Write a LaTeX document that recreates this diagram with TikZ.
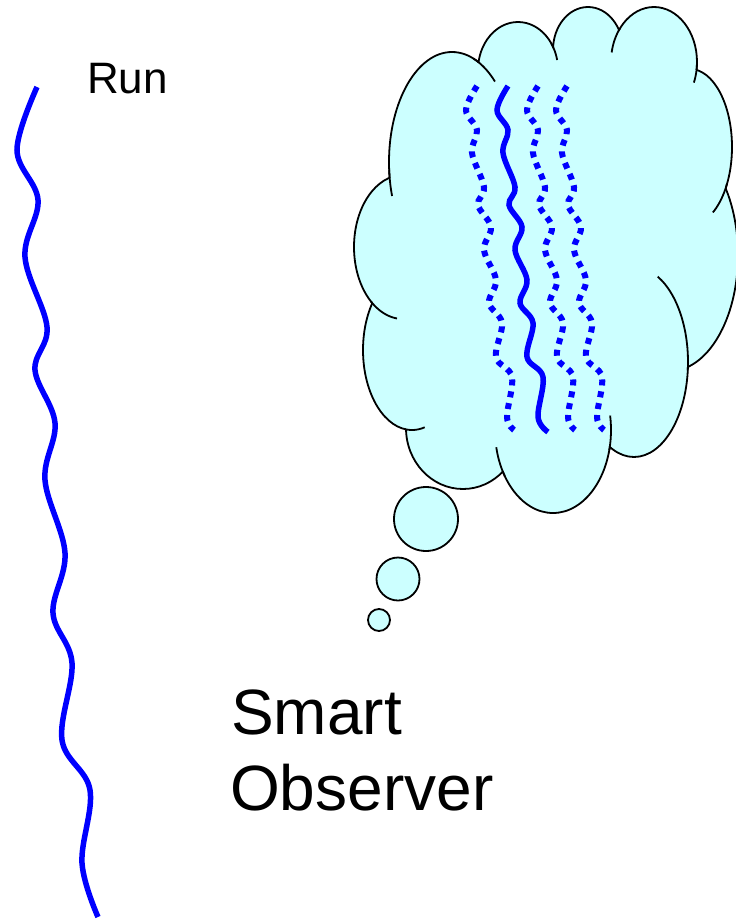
\documentclass[tikz,border=0pt]{standalone}
\usepackage{fontspec}
\setmainfont{Liberation Sans}
\definecolor{cloudfill}{RGB}{204,255,255}
\definecolor{wave}{RGB}{0,0,255}
\tikzset{
  cloudline/.style={draw=black, line width=1.8pt, line join=round},
  wavesolid/.style={draw=wave, line width=5.5pt},
  wavedotted/.style={draw=wave, line width=6pt, dash pattern=on 6pt off 6pt},
  bubble/.style={circle, draw=black, line width=1.8pt, fill=cloudfill, inner sep=0pt},
  label/.style={inner sep=0pt, anchor=base west}
}
% cloud bumps: centre x / centre y / x radius / y radius  (K,A,B,C,D,E,F,G,H,I,J)
\def\cloudlist{403/247/49/72, 452/162/63/110, 518/70/40/48, 588/50/35/43, 654/62/43/55, 690/147/42/78, 670/255/68/116, 634/362/54/95, 553/430/58/83, 463/428/57/61, 412/350/49/80}
\newcommand{\ctail}[6]{\draw[cloudline] plot[domain=#5:#6, samples=16, smooth, variable=\t] ({#1+#3*cos(\t)},{#2+#4*sin(\t)});}
\begin{document}
\begin{tikzpicture}[x=1pt,y=-1pt]
\useasboundingbox (0,0) rectangle (736,919);

% left run
\draw[wavesolid] plot[smooth, tension=0.6] coordinates {(37,87) (17,150) (38,200) (25,257) (47,327) (35,370) (55,423) (45,480) (65,553) (53,613) (72,663) (62,740) (90,790) (82,863) (98,917)};
\node[label, font=\fontsize{44}{50}\selectfont] (run) at (87,93) {Run};

% cloud fill
\fill[cloudfill] (403,247) -- (452,162) -- (518,70) -- (588,50) -- (654,62) -- (690,147) -- (670,255) -- (634,362) -- (553,430) -- (463,428) -- (412,350) -- cycle;
\foreach \cx/\cy/\rx/\ry in \cloudlist {
  \fill[cloudfill] (\cx,\cy) ellipse [x radius=\rx pt, y radius=\ry pt];
}
% cloud outline: each bump drawn only where it lies outside all the others
\foreach \cx/\cy/\rx/\ry [count=\i] in \cloudlist {
  \begin{scope}[even odd rule]
    \clip (-50,-50) rectangle (800,980)
      (403,247) -- (452,162) -- (518,70) -- (588,50) -- (654,62) -- (690,147) -- (670,255) -- (634,362) -- (553,430) -- (463,428) -- (412,350) -- cycle;
    \foreach \ex/\ey/\erx/\ery [count=\j] in \cloudlist {
      \ifnum\j=\i\relax\else
        \clip (-50,-50) rectangle (800,980) (\ex,\ey) ellipse [x radius=\erx pt, y radius=\ery pt];
      \fi
    }
    \draw[cloudline] (\cx,\cy) ellipse [x radius=\rx pt, y radius=\ry pt];
  \end{scope}
}
% inner tails of the bumps
\ctail{452}{162}{63}{110}{162}{176}
\ctail{452}{162}{63}{110}{290}{313}
\ctail{518}{70}{40}{48}{326}{348}
\ctail{654}{62}{43}{55}{190}{218}
\ctail{654}{62}{43}{55}{2}{22}
\ctail{690}{147}{42}{78}{28}{57}
\ctail{634}{362}{54}{95}{-64}{5}
\ctail{553}{430}{58}{83}{-10}{14}
\ctail{553}{430}{58}{83}{146}{168}
\ctail{403}{247}{49}{72}{97}{131}
\ctail{412}{350}{49}{80}{75}{99}

% thought bubbles
\node[bubble, minimum size=64pt] (b1) at (426,519) {};
\node[bubble, minimum size=43pt] (b2) at (398,579) {};
\node[bubble, minimum size=22pt] (b3) at (379,620) {};

% runs in the cloud
\draw[wavesolid] plot[smooth, tension=0.6] coordinates {(508,86) (497,110) (508,130) (503,153) (515,187) (509,205) (522,227) (515,250) (527,280) (520,303) (533,323) (527,357) (543,377) (538,417) (548,432)};
\foreach \dx in {-31,30,59}{
  \draw[wavedotted, shift={(\dx,0)}] plot[smooth, tension=0.6] coordinates {(508,86) (497,110) (508,130) (503,153) (515,187) (509,205) (522,227) (515,250) (527,280) (520,303) (533,323) (527,357) (543,377) (538,417) (545,430)};
}

% label
\node[label, font=\fontsize{64}{76}\selectfont] (smart) at (231,734) {Smart};
\node[label, font=\fontsize{64}{76}\selectfont] (observer) at (230,810) {Observer};
\end{tikzpicture}
\end{document}
